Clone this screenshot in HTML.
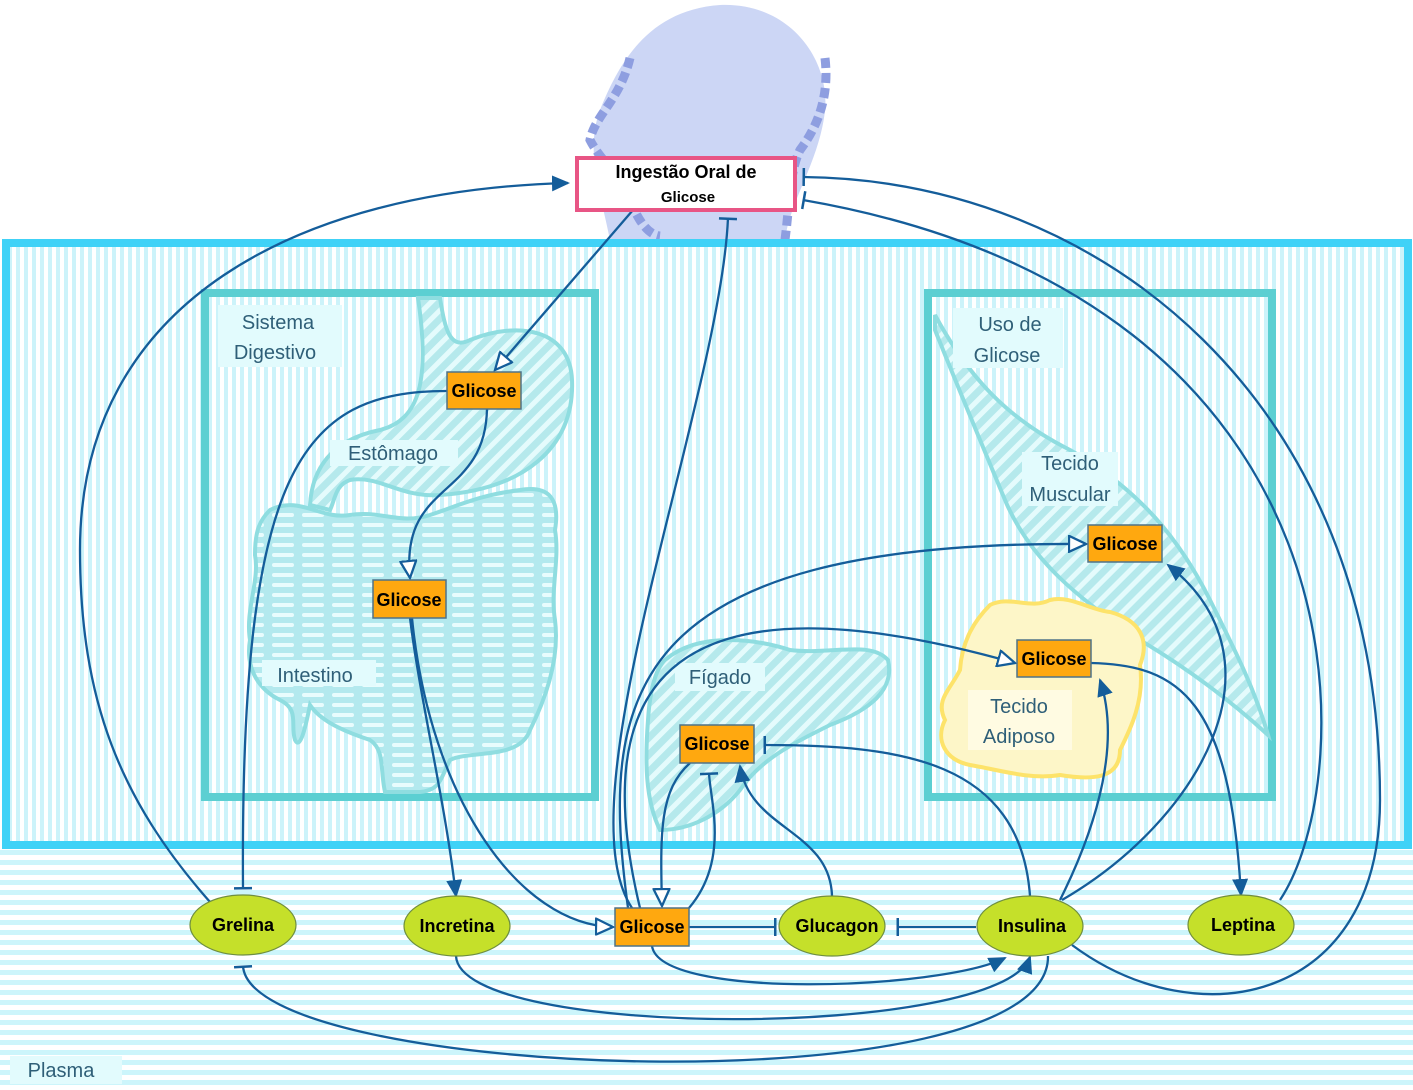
<!DOCTYPE html>
<html><head><meta charset="utf-8"><style>
html,body{margin:0;padding:0;background:#fff}
svg{display:block}
text{font-family:"Liberation Sans",sans-serif}
.lbl{font-size:20px;fill:#2f5f78}
.nd{font-size:18px;font-weight:bold;fill:#000}
.e{fill:none;stroke:#145d9a;stroke-width:2.3}
</style></head><body>
<svg width="1413" height="1090" viewBox="0 0 1413 1090" xmlns="http://www.w3.org/2000/svg">
<defs>
<pattern id="vs" width="8" height="8" patternUnits="userSpaceOnUse"><rect width="8" height="8" fill="#ffffff"/><rect width="4" height="8" fill="#ccf3fa"/></pattern>
<pattern id="hs" width="10" height="10" patternUnits="userSpaceOnUse"><rect width="10" height="10" fill="#ffffff"/><rect width="10" height="5" fill="#ccf5fb"/></pattern>
<pattern id="dg" width="12" height="12" patternUnits="userSpaceOnUse" patternTransform="rotate(45)"><rect width="12" height="12" fill="#b5e9ec"/><rect width="5" height="12" fill="#e4fbfc"/></pattern>
<pattern id="dash" width="30" height="10" patternUnits="userSpaceOnUse"><rect width="30" height="10" fill="#b3e9ee"/><rect x="2" y="3" width="22" height="4" rx="2" fill="#e8fcfd"/></pattern>
<marker id="fa" markerWidth="18" markerHeight="16" refX="16" refY="8" orient="auto" markerUnits="userSpaceOnUse"><path d="M0,0 L18,8 L0,16 z" fill="#145d9a"/></marker>
<marker id="oa" markerWidth="20" markerHeight="18" refX="18" refY="9" orient="auto" markerUnits="userSpaceOnUse"><path d="M1,1 L18,9 L1,17 z" fill="#fff" stroke="#145d9a" stroke-width="2.3"/></marker>
<marker id="tb" markerWidth="6" markerHeight="20" refX="3" refY="10" orient="auto" markerUnits="userSpaceOnUse"><rect x="1" y="1" width="2.5" height="18" fill="#145d9a"/></marker>
</defs>
<rect width="1413" height="1090" fill="#fff"/>
<path d="M610,240 C600,190 585,150 600,110 C620,60 650,10 720,5 C790,2 830,60 825,110 C820,160 790,200 785,240 Z" fill="#ccd6f5"/>
<path d="M630,58 C620,100 595,115 590,140 C600,160 620,175 630,200 C640,225 650,235 660,236" fill="none" stroke="#8e9ee0" stroke-width="9" stroke-dasharray="10,5"/>
<path d="M825,58 C830,100 815,130 800,150 C790,170 790,200 785,240" fill="none" stroke="#8e9ee0" stroke-width="9" stroke-dasharray="10,5"/>
<rect x="0" y="846" width="1413" height="244" fill="url(#hs)"/>
<rect x="6" y="243" width="1402" height="602" fill="url(#vs)" stroke="#40d2f7" stroke-width="8"/>
<rect x="205" y="293" width="390" height="504" fill="none" stroke="#5ccfd2" stroke-width="8"/>
<rect x="928" y="293" width="344" height="504" fill="none" stroke="#5ccfd2" stroke-width="8"/>
<path d="M418,298 L440,298 C445,330 450,350 470,340 C520,320 570,330 572,380 C575,450 520,490 440,495 C400,498 380,475 350,480 C335,485 335,500 330,510 L310,505 C312,470 330,440 380,430 C420,420 430,380 418,298 Z" fill="url(#dg)" stroke="#8fdde0" stroke-width="4"/>
<path d="M270,510 C300,495 320,520 350,515 C380,510 400,525 430,515 C460,505 480,495 520,490 C550,485 560,500 555,530 C560,560 550,590 555,620 C560,660 545,700 530,730 C520,760 470,750 450,760 C440,780 440,790 420,792 L385,792 C380,770 385,750 370,740 C340,730 320,720 310,705 C305,730 300,750 295,740 C290,725 300,710 280,700 C260,690 245,670 250,640 C245,610 260,580 255,555 C255,530 260,520 270,510 Z" fill="url(#dash)" stroke="#8fdde0" stroke-width="4"/>
<path d="M665,660 C700,630 760,640 790,650 C830,655 870,640 888,660 C895,690 870,710 830,725 C790,745 760,760 740,790 C720,815 690,830 660,830 C645,800 645,760 648,720 C650,690 655,670 665,660 Z" fill="url(#dg)" stroke="#8fdde0" stroke-width="4"/>
<path d="M935,315 C970,380 1010,420 1070,450 C1140,490 1180,540 1210,600 C1235,650 1255,690 1268,735 C1230,700 1190,670 1140,640 C1080,600 1030,560 1005,500 C980,440 955,380 935,330 Z" fill="url(#dg)" stroke="#8fdde0" stroke-width="4"/>
<path d="M990,605 C1010,595 1030,610 1050,600 C1070,595 1090,610 1110,612 C1140,620 1150,640 1140,665 C1145,700 1130,730 1120,750 C1120,780 1090,780 1060,775 C1030,780 1000,770 970,765 C945,760 935,740 945,720 C935,700 950,690 960,670 C962,640 975,620 990,605 Z" fill="#fdf6c8" stroke="#fde36a" stroke-width="4"/>
<rect x="218" y="305" width="124" height="62" fill="#e2fbfd"/>
<text class="lbl" x="278" y="329" text-anchor="middle">Sistema</text>
<text class="lbl" x="275" y="359" text-anchor="middle">Digestivo</text>
<rect x="330" y="440" width="128" height="26" fill="#e2fbfd"/>
<text class="lbl" x="393" y="460" text-anchor="middle">Estômago</text>
<rect x="262" y="660" width="114" height="26" fill="#e2fbfd"/>
<text class="lbl" x="315" y="682" text-anchor="middle">Intestino</text>
<rect x="675" y="663" width="90" height="28" fill="#e2fbfd"/>
<text class="lbl" x="720" y="684" text-anchor="middle">Fígado</text>
<rect x="953" y="308" width="110" height="60" fill="#e2fbfd"/>
<text class="lbl" x="1010" y="331" text-anchor="middle">Uso de</text>
<text class="lbl" x="1007" y="362" text-anchor="middle">Glicose</text>
<rect x="1022" y="452" width="96" height="54" fill="#e2fbfd"/>
<text class="lbl" x="1070" y="470" text-anchor="middle">Tecido</text>
<text class="lbl" x="1070" y="501" text-anchor="middle">Muscular</text>
<rect x="968" y="690" width="104" height="60" fill="#fffbe2"/>
<text class="lbl" x="1019" y="713" text-anchor="middle">Tecido</text>
<text class="lbl" x="1019" y="743" text-anchor="middle">Adiposo</text>
<rect x="10" y="1056" width="112" height="28" fill="#e2fbfd"/>
<text class="lbl" x="61" y="1077" text-anchor="middle">Plasma</text>
<path class="e" d="M210,902 C120,800 80,700 80,550 C80,300 300,190 568,183" marker-end="url(#fa)"/>
<path class="e" d="M633,210 L495,370" marker-end="url(#oa)"/>
<path class="e" d="M447,391 C300,391 240,470 243,889" marker-end="url(#tb)"/>
<path class="e" d="M487,409 C485,500 400,480 410,578" marker-end="url(#oa)"/>
<path class="e" d="M410,618 C420,700 445,800 456,896" marker-end="url(#fa)"/>
<path class="e" d="M412,618 C430,800 520,925 613,927" marker-end="url(#oa)"/>
<path class="e" d="M632,908 C560,800 720,400 728,218" marker-end="url(#tb)"/>
<path class="e" d="M628,908 C600,700 620,540 1086,544" marker-end="url(#oa)"/>
<path class="e" d="M640,908 C590,700 650,560 1015,663" marker-end="url(#oa)"/>
<path class="e" d="M690,763 C660,790 660,830 662,906" marker-end="url(#oa)"/>
<path class="e" d="M689,908 C730,860 710,800 709,773" marker-end="url(#tb)"/>
<path class="e" d="M832,896 C830,830 750,830 740,766" marker-end="url(#fa)"/>
<path class="e" d="M1030,896 C1020,760 900,745 764,745" marker-end="url(#tb)"/>
<path class="e" d="M689,927 L776,927" marker-end="url(#tb)"/>
<path class="e" d="M976,927 L897,927" marker-end="url(#tb)"/>
<path class="e" d="M652,946 C660,1000 940,990 1005,958" marker-end="url(#fa)"/>
<path class="e" d="M456,956 C460,1040 1000,1040 1030,957" marker-end="url(#fa)"/>
<path class="e" d="M1048,956 C1050,1110 250,1080 243,966" marker-end="url(#tb)"/>
<path class="e" d="M1060,900 C1100,820 1120,740 1100,680" marker-end="url(#fa)"/>
<path class="e" d="M1062,900 C1200,820 1290,660 1168,565" marker-end="url(#fa)"/>
<path class="e" d="M1091,663 C1180,665 1230,700 1241,895" marker-end="url(#fa)"/>
<path class="e" d="M1280,900 C1360,780 1380,300 803,200" marker-end="url(#tb)"/>
<path class="e" d="M1072,945 C1200,1040 1380,1000 1380,800 C1380,400 1100,180 803,177" marker-end="url(#tb)"/>
<rect x="577" y="158" width="218" height="52" fill="#fff" stroke="#e85585" stroke-width="4"/>
<text class="nd" x="686" y="178" text-anchor="middle">Ingestão Oral de</text>
<text x="688" y="202" text-anchor="middle" style="font-size:15px;font-weight:bold">Glicose</text>
<g stroke="#4f7388" stroke-width="1.5" fill="#ffa80f">
<rect x="447" y="372" width="74" height="37"/>
<rect x="373" y="580" width="73" height="38"/>
<rect x="680" y="725" width="74" height="38"/>
<rect x="615" y="908" width="74" height="38"/>
<rect x="1088" y="525" width="74" height="37"/>
<rect x="1017" y="640" width="74" height="37"/>
</g>
<text class="nd" x="484" y="397" text-anchor="middle">Glicose</text>
<text class="nd" x="409" y="606" text-anchor="middle">Glicose</text>
<text class="nd" x="717" y="750" text-anchor="middle">Glicose</text>
<text class="nd" x="652" y="933" text-anchor="middle">Glicose</text>
<text class="nd" x="1125" y="550" text-anchor="middle">Glicose</text>
<text class="nd" x="1054" y="665" text-anchor="middle">Glicose</text>
<g fill="#c5e02a" stroke="#6f8e40" stroke-width="1.2">
<ellipse cx="243" cy="925" rx="53" ry="30"/>
<ellipse cx="457" cy="926" rx="53" ry="30"/>
<ellipse cx="832" cy="926" rx="53" ry="30"/>
<ellipse cx="1030" cy="926" rx="53" ry="30"/>
<ellipse cx="1241" cy="925" rx="53" ry="30"/>
</g>
<text class="nd" x="243" y="931" text-anchor="middle">Grelina</text>
<text class="nd" x="457" y="932" text-anchor="middle">Incretina</text>
<text class="nd" x="837" y="932" text-anchor="middle">Glucagon</text>
<text class="nd" x="1032" y="932" text-anchor="middle">Insulina</text>
<text class="nd" x="1243" y="931" text-anchor="middle">Leptina</text>
</svg>
</body></html>
